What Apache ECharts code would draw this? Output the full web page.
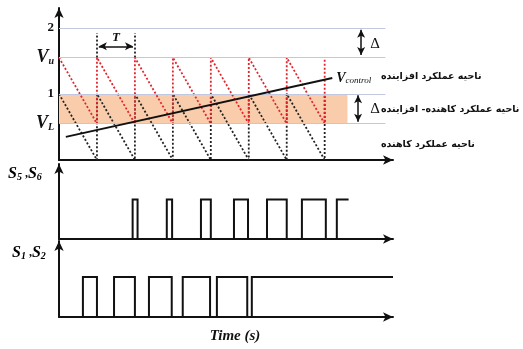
<!DOCTYPE html>
<html><head><meta charset="utf-8">
<script src="https://cdn.jsdelivr.net/npm/echarts@6/dist/echarts.min.js"></script>
<style>html,body{margin:0;padding:0;background:#fff}#c{width:523px;height:349px}</style>
</head><body><div id="c"></div>
<script>
// ---- data (time in carrier periods T) ----
const tMax = 8.8;
const levelTwo = 2, levelVu = 1.55, levelOne = 1, levelVL = 0.55;
const yTickValues = [0.55, 1, 1.55, 2];
const yTickLabels = ['V|L', '1', 'V|u', '2'];
const upperCarrierT = [0, 1, 1, 2, 2, 3, 3, 4, 4, 5, 5, 6, 6, 7, 7];
const upperCarrierV = [1.55, 0.55, 1.55, 0.55, 1.55, 0.55, 1.55, 0.55, 1.55, 0.55, 1.55, 0.55, 1.55, 0.55, 1.55];
const lowerCarrierT = [0, 1, 1, 2, 2, 3, 3, 4, 4, 5, 5, 6, 6, 7, 7];
const lowerCarrierV = [1, 0, 1, 0, 1, 0, 1, 0, 1, 0, 1, 0, 1, 0, 1];
const controlT = [0.18, 7.2];
const controlV = [0.35, 1.24];
const s56Rise = [1.94, 2.84, 3.74, 4.61, 5.48, 6.4, 7.32];
const s56Fall = [2.07, 2.98, 4.0, 4.98, 6.0, 7.03];
const s56End = 7.63;
const s12Rise = [0.63, 1.45, 2.37, 3.26, 4.16, 5.08];
const s12Fall = [1.0, 2.0, 2.97, 3.98, 4.96];
const s12End = 8.8;
const regionLabels = ['ناحیه عملکرد افزاینده', 'ناحیه عملکرد کاهنده- افزاینده', 'ناحیه عملکرد کاهنده'];

// ---- build ----
function zip(a, b) { return a.map((x, i) => [x, b[i]]); }
function pulses(rise, fall, end) {
  const d = [[0, 0]];
  rise.forEach((r, i) => {
    d.push([r, 0], [r, 1]);
    if (i < fall.length) d.push([fall[i], 1], [fall[i], 0]);
    else d.push([end, 1]);
  });
  return d;
}
const serif = 'Liberation Serif';
const ink = '#111';
const rich = {
  n: { fontFamily: serif, fontWeight: 'bold', fontSize: 13, color: ink },
  v: { fontFamily: serif, fontStyle: 'italic', fontWeight: 'bold', fontSize: 18, color: ink },
  sub: { fontFamily: serif, fontStyle: 'italic', fontWeight: 'bold', fontSize: 10, color: ink, verticalAlign: 'bottom' },
  s: { fontFamily: serif, fontStyle: 'italic', fontWeight: 'bold', fontSize: 16, color: ink },
  c: { fontFamily: serif, fontWeight: 'bold', fontSize: 12, color: ink },
  vc: { fontFamily: serif, fontStyle: 'italic', fontWeight: 'bold', fontSize: 14, color: ink },
  subc: { fontFamily: serif, fontStyle: 'italic', fontSize: 9, color: ink, verticalAlign: 'bottom' }
};
const labelMap = {};
yTickValues.forEach((v, i) => {
  const p = yTickLabels[i].split('|');
  labelMap[String(v)] = p.length > 1 ? '{v|' + p[0] + '}{sub|' + p[1] + '}' : '{n|' + p[0] + '}';
});
const axisLine = { show: true, onZero: false, symbol: ['none', 'arrow'], symbolSize: [7, 10], lineStyle: { color: ink, width: 2 } };
function xAx(gi) {
  return { gridIndex: gi, type: 'value', min: 0, max: tMax, axisLine, axisTick: { show: false }, axisLabel: { show: false }, splitLine: { show: false } };
}
function yAx(gi, max, labels) {
  const a = { gridIndex: gi, type: 'value', min: 0, max, axisLine, axisTick: { show: false }, splitLine: { show: false }, axisLabel: { show: false } };
  if (labels) a.axisLabel = { show: true, customValues: yTickValues, margin: 5, formatter: v => labelMap[String(v)] || '', rich };
  return a;
}
const thin = { color: '#c2c7e0', width: 1.2, type: 'solid' };
const persian = { fontFamily: 'DejaVu Sans', fontWeight: 'bold', fontSize: 9.5, fill: ink, align: 'left', verticalAlign: 'middle' };
const option = {
  animation: false,
  grid: [
    { left: 59, top: 8, width: 334, height: 152 },
    { left: 59, top: 164, width: 334, height: 75 },
    { left: 59, top: 241, width: 334, height: 76 }
  ],
  xAxis: [xAx(0), xAx(1), xAx(2)],
  yAxis: [yAx(0, 2.3, true), yAx(1, 1.9), yAx(2, 1.9)],
  series: [
    { // band + level lines
      type: 'line', xAxisIndex: 0, yAxisIndex: 0, data: [], z: 1,
      markArea: { silent: true, itemStyle: { color: '#f9cdab' }, data: [[{ coord: [0, levelVL] }, { coord: [7.6, levelOne] }]] },
      markLine: { silent: true, symbol: ['none', 'none'], label: { show: false }, lineStyle: thin,
        data: [levelTwo, levelVu, levelOne, levelVL].map(v => [{ coord: [0, v] }, { coord: [8.6, v] }]) }
    },
    { type: 'line', xAxisIndex: 0, yAxisIndex: 0, data: zip(lowerCarrierT, lowerCarrierV), showSymbol: false, z: 3,
      lineStyle: { color: '#222', width: 1.8, type: [2, 2] } },
    { type: 'line', xAxisIndex: 0, yAxisIndex: 0, data: zip(upperCarrierT, upperCarrierV), showSymbol: false, z: 4,
      lineStyle: { color: '#e4242c', width: 1.8, type: [2, 2] } },
    { // T marker
      type: 'line', xAxisIndex: 0, yAxisIndex: 0, data: [], z: 4,
      markLine: { silent: true, symbol: ['none', 'none'], label: { show: false }, lineStyle: { color: '#222', width: 1.8, type: [2, 2] },
        data: [[{ coord: [1, levelVu] }, { coord: [1, 1.92] }], [{ coord: [2, levelVu] }, { coord: [2, 1.92] }]] }
    },
    {
      type: 'line', xAxisIndex: 0, yAxisIndex: 0, data: [], z: 5,
      markLine: { silent: true, symbol: ['arrow', 'arrow'], symbolSize: [6, 8], lineStyle: { color: ink, width: 1.5, type: 'solid' },
        label: { show: true, position: 'middle', formatter: 'T', fontFamily: serif, fontStyle: 'italic', fontWeight: 'bold', fontSize: 13, color: ink, distance: 2 },
        data: [[{ coord: [1.05, 1.72] }, { coord: [1.95, 1.72] }]] }
    },
    { // delta arrows
      type: 'line', xAxisIndex: 0, yAxisIndex: 0, data: [], z: 5,
      markLine: { silent: true, symbol: ['arrow', 'arrow'], symbolSize: [6, 8], label: { show: false }, lineStyle: { color: ink, width: 1.5, type: 'solid' },
        data: [[{ coord: [7.96, 1.97] }, { coord: [7.96, 1.59] }], [{ coord: [7.88, 0.98] }, { coord: [7.88, 0.58] }]] },
      markPoint: { silent: true, symbol: 'circle', symbolSize: 0,
        label: { show: true, position: 'inside', formatter: 'Δ', fontFamily: serif, fontSize: 15, color: ink },
        data: [{ coord: [8.33, 1.76] }, { coord: [8.33, 0.77] }] }
    },
    { type: 'line', xAxisIndex: 0, yAxisIndex: 0, data: zip(controlT, controlV), showSymbol: false, z: 6,
      lineStyle: { color: ink, width: 2 },
      endLabel: { show: true, distance: 4, formatter: '{vc|V}{subc|control}', rich } },
    { type: 'line', xAxisIndex: 1, yAxisIndex: 1, data: pulses(s56Rise, s56Fall, s56End), showSymbol: false, z: 6,
      lineStyle: { color: ink, width: 2, join: 'miter' } },
    { type: 'line', xAxisIndex: 2, yAxisIndex: 2, data: pulses(s12Rise, s12Fall, s12End), showSymbol: false, z: 6,
      lineStyle: { color: ink, width: 2, join: 'miter' } }
  ],
  graphic: [
    { type: 'text', left: 8, top: 166, style: { text: '{s|S}{sub|5}{c| ,}{s|S}{sub|6}', rich } },
    { type: 'text', left: 12, top: 245, style: { text: '{s|S}{sub|1}{c| ,}{s|S}{sub|2}', rich } },
    { type: 'text', x: 235, y: 336, style: { text: 'Time (s)', fontFamily: serif, fontStyle: 'italic', fontWeight: 'bold', fontSize: 15, fill: ink, align: 'center', verticalAlign: 'middle' } },
    { type: 'text', x: 381, y: 77, style: Object.assign({ text: regionLabels[0] }, persian) },
    { type: 'text', x: 381, y: 110, style: Object.assign({ text: regionLabels[1] }, persian) },
    { type: 'text', x: 381, y: 145, style: Object.assign({ text: regionLabels[2] }, persian) }
  ]
};
echarts.init(document.getElementById('c'), null, { renderer: 'canvas' }).setOption(option);
</script></body></html>
